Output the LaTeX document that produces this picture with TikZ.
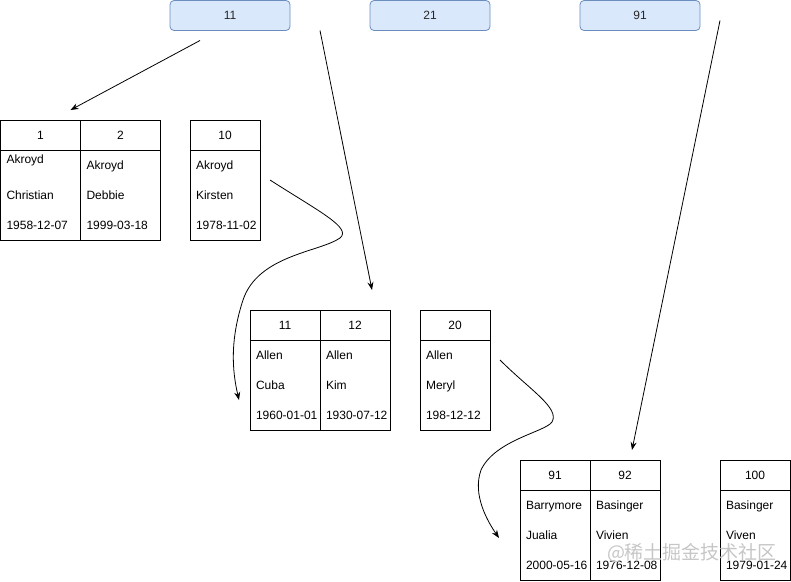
\documentclass[tikz,border=0pt]{standalone}
\usepackage{fontspec}
\setmainfont{Liberation Sans}
\newfontfamily\cjkfont{Noto Sans CJK SC}
\usetikzlibrary{positioning}
\usetikzlibrary{arrows.meta}
\definecolor{keyfill}{HTML}{DAE8FC}
\definecolor{keyline}{HTML}{6C8EBF}
\hfuzz=30pt
\tikzset{
        cell/.style={draw=black, line width=0.8pt, inner sep=0pt, outer sep=0pt, anchor=north west, font=\fontsize{12}{30}\selectfont},
        % Keys of the index page
        node_key/.style={cell, draw=keyline, fill=keyfill, rounded corners=4pt, minimum width=120pt, minimum height=30pt, text=black!85},
        % Record id
        node_head/.style={cell, minimum height=30pt, inner xsep=6pt, align=center},
        % Record fields
        node_body/.style={cell, minimum height=90pt, inner xsep=6pt, align=left, execute at begin node={\exhyphenpenalty=10000\hyphenpenalty=10000}},
        wide/.style={minimum width=80pt, text width=68pt},
        narrow/.style={minimum width=70pt, text width=58pt},
        % Links between pages
        link/.style={-{Stealth[length=8pt,width=6pt]}, line width=0.8pt}
}

\begin{document}
\begin{tikzpicture}[x=1pt, y=-1pt]
    \useasboundingbox (0,0) rectangle (791,581);
    % index page
    \node[node_key] (k11) at (170,0.5) {11};
    \node[node_key] (k21) at (370,0.5) {21};
    \node[node_key] (k91) at (580,0.5) {91};

    % first leaf page
    \node[node_head, wide] (r1h) at (0.5,120) {1};
    \node[node_head, wide, right=0pt of r1h] (r2h) {2};
    \node[node_head, narrow] (r10h) at (190,120) {10};
    \node[node_body, wide, below=0pt of r1h] (r1b) {\raisebox{6pt}[\height][\depth]{Akroyd}\\Christian\\1958-12-07};
    \node[node_body, wide, below=0pt of r2h] (r2b) {Akroyd\\Debbie\\1999-03-18};
    \node[node_body, narrow, below=0pt of r10h] (r10b) {Akroyd\\Kirsten\\1978-11-02};

    % second leaf page
    \node[node_head, narrow] (r11h) at (250,310) {11};
    \node[node_head, narrow, right=0pt of r11h] (r12h) {12};
    \node[node_head, narrow] (r20h) at (420,310) {20};
    \node[node_body, narrow, below=0pt of r11h] (r11b) {Allen\\Cuba\\1960-01-01};
    \node[node_body, narrow, below=0pt of r12h] (r12b) {Allen\\Kim\\1930-07-12};
    \node[node_body, narrow, below=0pt of r20h] (r20b) {Allen\\Meryl\\198-12-12};

    % third leaf page
    \node[node_head, narrow] (r91h) at (520,460) {91};
    \node[node_head, narrow, right=0pt of r91h] (r92h) {92};
    \node[node_head, narrow] (r100h) at (720,460) {100};
    \node[node_body, narrow, below=0pt of r91h] (r91b) {Barrymore\\Jualia\\2000-05-16};
    \node[node_body, narrow, below=0pt of r92h] (r92b) {Basinger\\Vivien\\1976-12-08};
    \node[node_body, narrow, below=0pt of r100h] (r100b) {Basinger\\Viven\\1979-01-24};

    % link ends
    \coordinate (a1s) at ([xshift=-30pt,yshift=-10pt]k11.south);
    \coordinate (a1e) at ([xshift=-10pt,yshift=10pt]r1h.north east);
    \coordinate (a2s) at ([xshift=30pt]k11.south east);
    \coordinate (a2e) at ([xshift=52pt,yshift=20pt]r11h.north east);
    \coordinate (a3s) at ([xshift=20pt,yshift=-5pt]k91.east);
    \coordinate (a3e) at ([xshift=42pt,yshift=10pt]r91h.north east);
    \coordinate (a4s) at ([xshift=10pt,yshift=-30pt]r10b.north east);
    \coordinate (a4e) at ([xshift=-11pt,yshift=-60pt]r11b.north west);
    \coordinate (a5s) at ([xshift=10pt,yshift=-20pt]r20b.north east);
    \coordinate (a5e) at ([xshift=-21pt,yshift=-48pt]r91b.north west);

    \draw[link] (a1s) -- (a1e);
    \draw[link] (a2s) -- (a2e);
    \draw[link] (a3s) -- (a3e);
    \draw[link] (a4s) .. controls (320,212) and (352,228) .. (340,238)
        .. controls (320,252) and (258,255) .. (243,300)
        .. controls (230,340) and (232,370) .. (a4e);
    \draw[link] (a5s) .. controls (530,390) and (560,408) .. (552,422)
        .. controls (545,432) and (495,440) .. (481,470)
        .. controls (472,495) and (488,522) .. (a5e);

    \node[text=gray!45, font=\cjkfont\fontsize{19}{20}\selectfont] (mark) at (692,553) {@稀土掘金技术社区};
\end{tikzpicture}
\end{document}
